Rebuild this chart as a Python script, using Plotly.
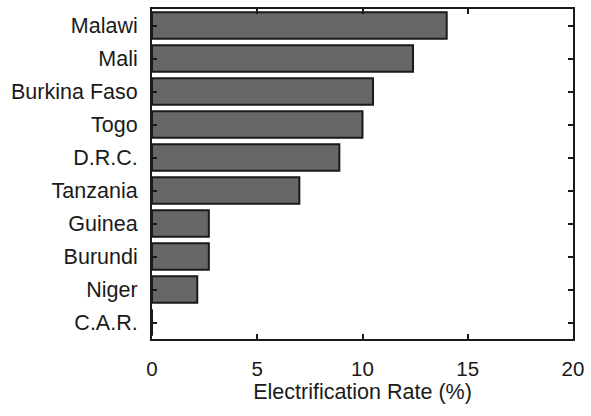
import plotly.graph_objects as go

countries = ["Malawi", "Mali", "Burkina Faso", "Togo", "D.R.C.", "Tanzania",
             "Guinea", "Burundi", "Niger", "C.A.R."]
rates = [14.0, 12.4, 10.5, 10.0, 8.9, 7.0, 2.7, 2.7, 2.15, 0.0]
x_ticks = [0, 5, 10, 15, 20]

fig = go.Figure(go.Bar(
    x=rates, y=countries, orientation="h",
    marker=dict(color="#676767", line=dict(color="#1a1a1a", width=2)),
    width=0.8,
))

family = "Liberation Sans, Arial, Helvetica, sans-serif"
ink = "#1a1a1a"

fig.update_layout(
    width=591, height=416,
    margin=dict(l=152, r=17, t=7, b=77),
    paper_bgcolor="white", plot_bgcolor="white",
    font=dict(family=family, size=20, color=ink),
    showlegend=False,
    xaxis=dict(
        range=[0, 20], tickvals=x_ticks, ticktext=[str(v) for v in x_ticks],
        showgrid=False, zeroline=False,
        showline=True, linecolor=ink, linewidth=2, mirror="ticks",
        ticks="inside", ticklen=5, tickwidth=1.5, tickcolor=ink,
        tickfont=dict(family=family, size=20.5, color=ink),
        ticklabelstandoff=10,
        title=dict(text="Electrification Rate (%)", standoff=4,
                   font=dict(family=family, size=21.5, color=ink)),
    ),
    yaxis=dict(
        categoryorder="array", categoryarray=countries,
        range=[9.5, -0.5],
        showgrid=False, zeroline=False,
        showline=True, linecolor=ink, linewidth=2, mirror="ticks",
        ticks="inside", ticklen=5, tickwidth=1.5, tickcolor=ink,
        tickfont=dict(family=family, size=21.5, color=ink),
        ticklabelstandoff=8,
    ),
)

fig.write_html("out.html", config={"displayModeBar": False},
               post_script="document.body.style.margin='0';")
